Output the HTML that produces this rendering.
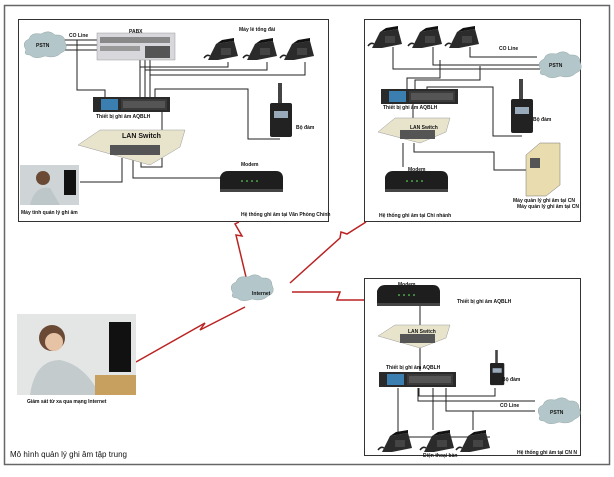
<!DOCTYPE html>
<html><head><meta charset="utf-8"><style>
body{margin:0;background:#fff}
svg text{font-family:"Liberation Sans",sans-serif;font-size:5px;font-weight:bold;fill:#111}
</style></head><body>
<svg width="614" height="472" viewBox="0 0 614 472" xmlns="http://www.w3.org/2000/svg">
<defs>
<g id="phone"><path d="M4 22 L12 6 L30 3 L34 18 L14 22 Z" fill="#2b2b2b"/><path d="M12 6 L18 2 L30 0 L30 3 Z" fill="#111"/><rect x="17" y="10" width="10" height="7" fill="#444"/><path d="M0 20 Q3 16 6 18" stroke="#222" fill="none" stroke-width="1.5"/></g>
<g id="cloud"><path d="M5 20 Q0 12 8 9 Q10 2 20 4 Q28 -1 34 5 Q44 4 44 12 Q48 20 40 23 Q34 29 24 26 Q14 30 9 25 Q2 25 5 20 Z" fill="#b3c6c9" stroke="#9aa" stroke-width=".5"/></g>
<g id="rec"><rect width="77" height="15" fill="#2a2a2a"/><rect x="8" y="2" width="17" height="11" fill="#3a7fb0"/><rect x="28" y="2" width="46" height="11" fill="#3b3b3b"/><rect x="30" y="4" width="42" height="7" fill="#555"/></g>
<g id="modem"><path d="M0 6 Q2 0 8 0 L56 0 Q62 0 63 6 L63 20 L0 20 Z" fill="#1e1e1e"/><rect x="0" y="18" width="63" height="3" fill="#444"/><circle cx="22" cy="10" r=".8" fill="#6f6"/><circle cx="27" cy="10" r=".8" fill="#6f6"/><circle cx="32" cy="10" r=".8" fill="#6f6"/><circle cx="37" cy="10" r=".8" fill="#6f6"/></g>
<g id="radio"><rect x="10" y="0" width="4" height="22" fill="#444"/><rect x="2" y="20" width="22" height="34" rx="2" fill="#222"/><rect x="6" y="28" width="14" height="7" fill="#9ab"/></g>
</defs>
<rect x="4.5" y="5.5" width="605" height="459" fill="none" stroke="#666" stroke-width="1.5"/>
<rect x="18.5" y="19.5" width="310" height="202" fill="none" stroke="#333"/>
<rect x="364.5" y="19.5" width="216" height="202" fill="none" stroke="#333"/>
<rect x="364.5" y="278.5" width="216" height="177" fill="none" stroke="#333"/>
<g stroke="#222" fill="none" stroke-width="1">
<path d="M64 40H97M64 45H97M64 50H97M77 40V90H105V97"/>
<path d="M140 60V97M145 60V97M150 60V97M140 67H228V62M145 70H267V62M150 75H305V62"/>
<path d="M155 97V89H248V139H280"/><path d="M162 112V167H141V160"/><path d="M122 158V182H80M133 158V178H220"/>
<path d="M393 47V69H540M433 47V65H540M470 47V57H537"/>
<path d="M407 89V78H440V60M415 89V80H480V66M427 89V87H493V136H522"/>
<path d="M413 104V120M403 143V167M414 143V152H494V170H526"/>
<path d="M420 303V325M420 347V371"/>
<path d="M398 388V437H490M433 388V430M446 388V411H535M418 388V401H535M419 388V396H495V388M473 411V430"/>
</g>
<g stroke="#b22" stroke-width="1.5" fill="none">
<path d="M136 362L205 323L200 330L245 307"/>
<path d="M246 277L236 235L242 236L235 224L239 222"/>
<path d="M290 283L340 238L341 232L347 234L366 222"/>
<path d="M292 292L340 292L337 300L364 300"/>
</g>
<use href="#cloud" x="21" y="30"/><text x="36" y="47">PSTN</text>
<text x="69" y="37">CO Line</text>
<rect x="97" y="33" width="78" height="27" fill="#d8d8dc" stroke="#999" stroke-width=".5"/><rect x="100" y="37" width="70" height="6" fill="#888"/><rect x="100" y="46" width="40" height="5" fill="#999"/><rect x="145" y="46" width="25" height="12" fill="#555"/>
<text x="129" y="33">PABX</text><text x="239" y="31">Máy lẻ tổng đài</text>
<use href="#phone" x="204" y="38"/><use href="#phone" x="243" y="38"/><use href="#phone" x="280" y="38"/>
<use href="#rec" x="93" y="97"/><text x="96" y="118">Thiết bị ghi âm AQBLH</text>
<use href="#radio" x="268" y="83"/><text x="296" y="129">Bộ đàm</text>
<path d="M78 145L100 130H185L180 147L150 165Z" fill="#e8e4cc" stroke="#999" stroke-width=".5"/><rect x="110" y="145" width="50" height="10" fill="#555"/>
<text x="122" y="138" style="font-size:7px">LAN Switch</text>
<rect x="20" y="165" width="59" height="40" fill="#cfd4d6"/><circle cx="43" cy="178" r="7" fill="#6b4a35"/><path d="M30 205Q35 185 50 188L60 205Z" fill="#bdc6c8"/><rect x="64" y="170" width="12" height="25" fill="#111"/>
<text x="21" y="214">Máy tính quản lý ghi âm</text>
<text x="241" y="166">Modem</text><use href="#modem" x="220" y="171"/>
<text x="241" y="216">Hệ thống ghi âm tại Văn Phòng Chính</text>
<use href="#phone" x="368" y="26"/><use href="#phone" x="408" y="26"/><use href="#phone" x="445" y="26"/>
<text x="499" y="50">CO Line</text><use href="#cloud" x="536" y="50"/><text x="549" y="67">PSTN</text>
<use href="#rec" x="381" y="89"/><text x="383" y="109">Thiết bị ghi âm AQBLH</text>
<use href="#radio" x="509" y="79"/><text x="533" y="121">Bộ đàm</text>
<path d="M378 132L395 118H450L446 132L420 143Z" fill="#e8e4cc" stroke="#999" stroke-width=".5"/><rect x="400" y="130" width="35" height="9" fill="#555"/><text x="410" y="129">LAN Switch</text>
<text x="408" y="171">Modem</text><use href="#modem" x="385" y="171"/>
<path d="M526 155L540 143H560V185L546 196H526Z" fill="#e9dcae" stroke="#777" stroke-width=".5"/><rect x="530" y="158" width="10" height="10" fill="#555"/>
<text x="513" y="202">Máy quản lý ghi âm tại CN</text><text x="517" y="208">Máy quản lý ghi âm tại CN</text>
<text x="379" y="217">Hệ thống ghi âm tại Chi nhánh</text>
<use href="#cloud" x="228" y="273"/><text x="252" y="295">Internet</text>
<rect x="17" y="314" width="119" height="81" fill="#e4e6e6"/><circle cx="52" cy="338" r="13" fill="#6b4a35"/><circle cx="54" cy="342" r="9" fill="#e7c3a6"/><path d="M30 395Q35 360 60 360Q85 365 100 395Z" fill="#c3cbcd"/><rect x="109" y="322" width="22" height="50" fill="#111"/><rect x="95" y="375" width="41" height="20" fill="#c7a060"/>
<text x="27" y="403">Giám sát từ xa qua mạng Internet</text>
<text x="10" y="457" style="font-weight:normal;font-size:8px">Mô hình quản lý ghi âm tập trung</text>
<text x="398" y="286">Modem</text><use href="#modem" x="377" y="285"/>
<text x="457" y="303">Thiết bị ghi âm AQBLH</text>
<path d="M378 336L395 325H450L446 338L420 348Z" fill="#e8e4cc" stroke="#999" stroke-width=".5"/><rect x="400" y="334" width="35" height="9" fill="#555"/><text x="408" y="333">LAN Switch</text>
<text x="386" y="369">Thiết bị ghi âm AQBLH</text><use href="#rec" x="379" y="372"/>
<use href="#radio" x="488" y="350" transform="translate(490 350) scale(.65) translate(-490 -350)"/><text x="502" y="381">Bộ đàm</text>
<text x="500" y="407">CO Line</text><use href="#cloud" x="535" y="396"/><text x="550" y="414">PSTN</text>
<use href="#phone" x="378" y="430"/><use href="#phone" x="420" y="430"/><use href="#phone" x="456" y="430"/>
<text x="423" y="457">Điện thoại bàn</text><text x="517" y="454">Hệ thống ghi âm tại CN N</text>
</svg>
</body></html>
